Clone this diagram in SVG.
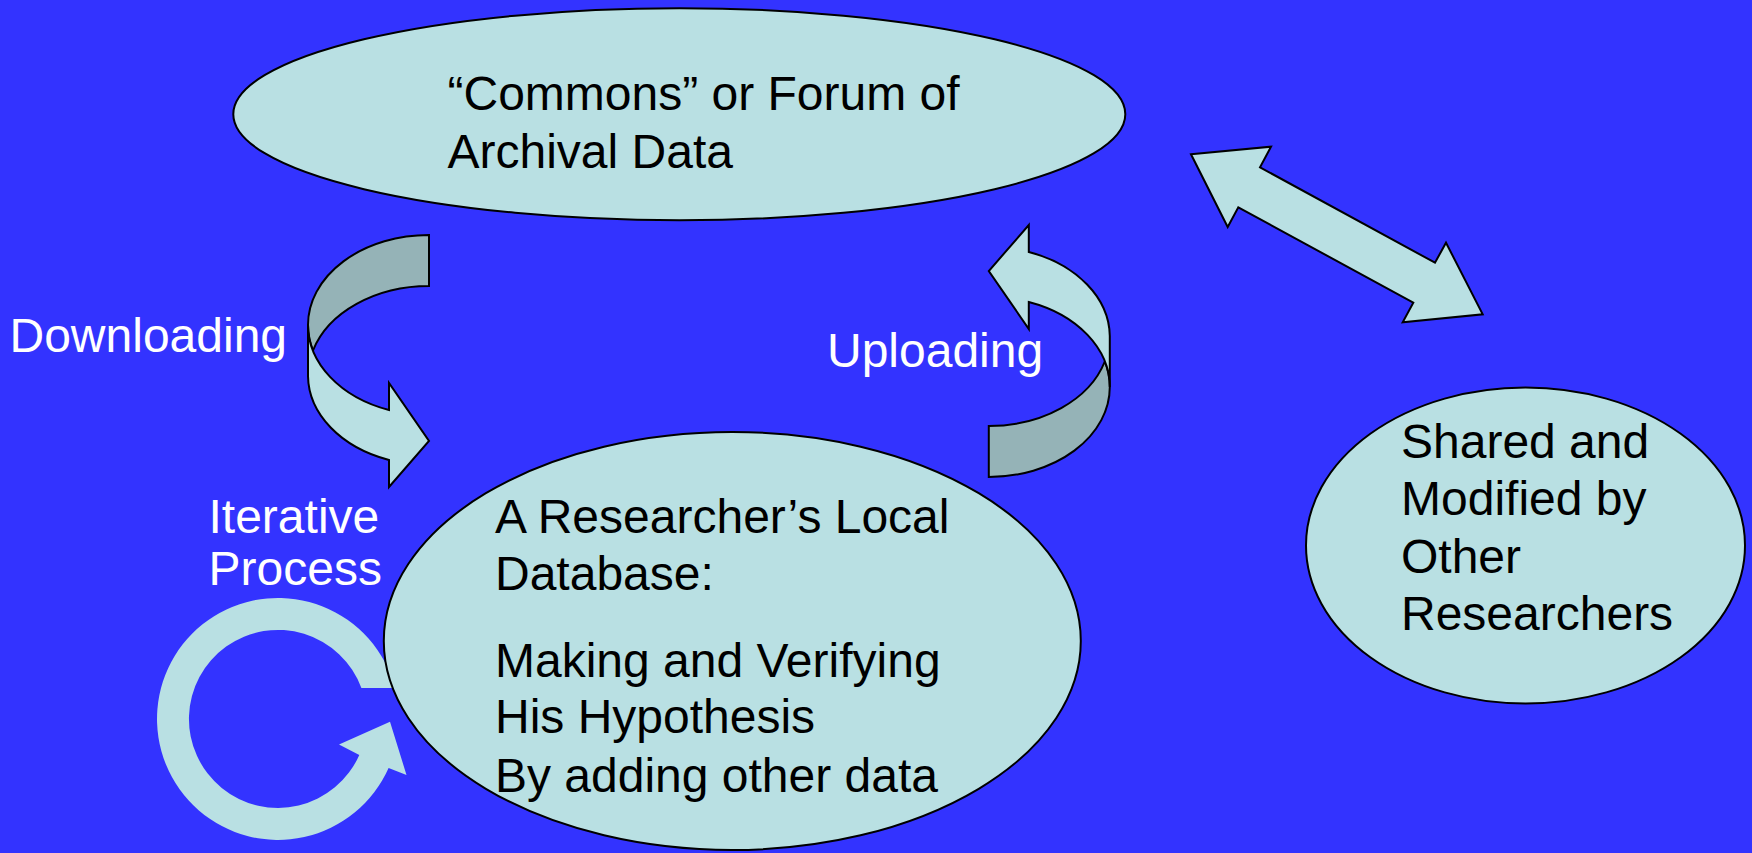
<svg xmlns="http://www.w3.org/2000/svg" width="1752" height="853" viewBox="0 0 1752 853">
  <style>
    .bg { fill: #3333FF; }
    .node { fill: #B9E0E3; stroke: #000000; stroke-width: 2; }
    .front { fill: #B9E0E3; stroke: #000000; stroke-width: 2; stroke-linejoin: miter; }
    .back { fill: #95B3B7; stroke: #000000; stroke-width: 2; stroke-linejoin: miter; }
    .ring { fill: #B9E0E3; stroke: none; }
    .t { font-family: "Liberation Sans", Arial, sans-serif; font-size: 48px; }
    .dark { fill: #000000; }
    .light { fill: #FFFFFF; }
  </style>
  <rect class="bg" x="0" y="0" width="1752" height="853"/>

  <g id="connectors">
    <g id="download-arrow">
      <path class="back" d="M308,325 A121,90 0 0 1 429,235 L429,286 A121,90 0 0 0 313,350.5 A121,90 0 0 1 308,325 Z"/>
      <path class="front" d="M308,325 L308,376 A121,90 0 0 0 389,460 L389,487 L429,441 L389,383 L389,410 A121,90 0 0 1 308,325 Z"/>
    </g>
    <g id="upload-arrow" transform="rotate(180 708.9 356)">
      <path class="back" d="M308,325 A121,90 0 0 1 429,235 L429,286 A121,90 0 0 0 313,350.5 A121,90 0 0 1 308,325 Z"/>
      <path class="front" d="M308,325 L308,376 A121,90 0 0 0 389,460 L389,487 L429,441 L389,383 L389,410 A121,90 0 0 1 308,325 Z"/>
    </g>
    <path id="share-arrow" class="front" d="M1191,154.3 L1271,146.7 L1260,167.3 L1435,262.7 L1446,242.7 L1482.7,314.3 L1402.7,322.3 L1413.3,302.7 L1238.3,207.3 L1227.7,227 Z"/>
    <path id="iterative-ring" class="ring" d="M361.4,688 L395,688 A121,121 0 1 0 388.6,768 L406.5,775 L390,721.7 L339,744.5 L359.3,755 A89,89 0 1 1 361.4,688 Z"/>
  </g>

  <g id="commons">
    <ellipse class="node" cx="679.3" cy="114.2" rx="446" ry="106"/>
    <text class="t dark" x="447.5" y="110">“Commons” or Forum of</text>
    <text class="t dark" x="447.5" y="168">Archival Data</text>
  </g>

  <g id="local-database">
    <ellipse class="node" cx="732.3" cy="641" rx="348.5" ry="209"/>
    <text class="t dark" x="495" y="533">A Researcher’s Local</text>
    <text class="t dark" x="495" y="590">Database:</text>
    <text class="t dark" x="495" y="677">Making and Verifying</text>
    <text class="t dark" x="495" y="733">His Hypothesis</text>
    <text class="t dark" x="495" y="792">By adding other data</text>
  </g>

  <g id="other-researchers">
    <ellipse class="node" cx="1525.5" cy="545.5" rx="219.5" ry="158"/>
    <text class="t dark" x="1401" y="458">Shared and</text>
    <text class="t dark" x="1401" y="515">Modified by</text>
    <text class="t dark" x="1401" y="573">Other</text>
    <text class="t dark" x="1401" y="630">Researchers</text>
  </g>

  <g id="labels">
    <text class="t light" x="9.5" y="352">Downloading</text>
    <text class="t light" x="827" y="367">Uploading</text>
    <text class="t light" x="208.5" y="533">Iterative</text>
    <text class="t light" x="208.5" y="585">Process</text>
  </g>
</svg>
